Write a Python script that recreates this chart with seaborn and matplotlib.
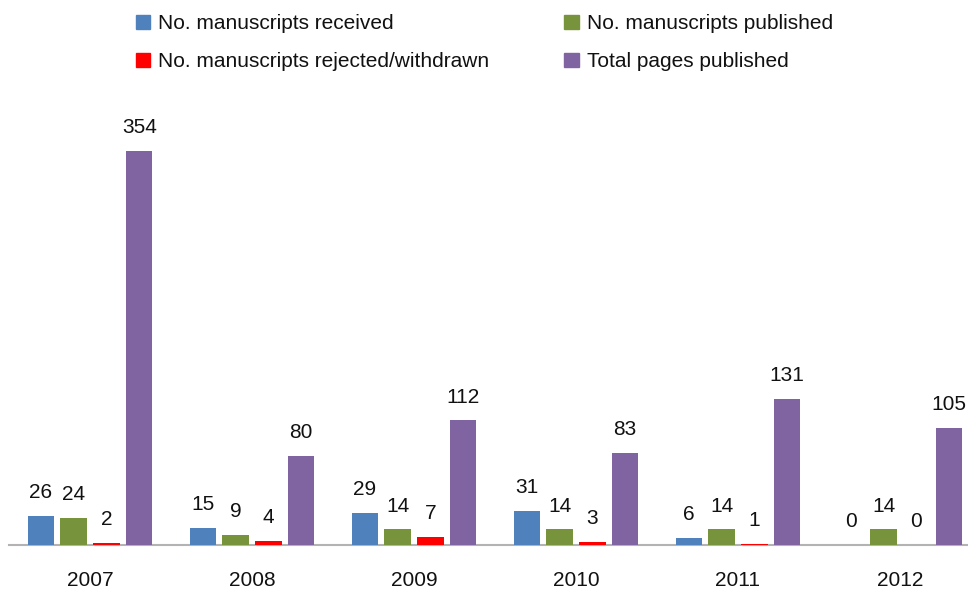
import matplotlib
matplotlib.use("Agg")
import matplotlib.pyplot as plt
from matplotlib.patches import Patch
import seaborn as sns
import pandas as pd

sns.set_style("white")
plt.rcParams['font.family'] = ['Liberation Sans', 'DejaVu Sans']

####### Data

years = ["2007", "2008", "2009", "2010", "2011", "2012"]
series = ["No. manuscripts received", "No. manuscripts published",
          "No. manuscripts rejected/withdrawn", "Total pages published"]
received = [26, 15, 29, 31, 6, 0]
published = [24, 9, 14, 14, 14, 14]
rejected = [2, 4, 7, 3, 1, 0]
pages = [354, 80, 112, 83, 131, 105]
colors = ["#4F81BD", "#77933C", "#FF0000", "#8064A2"]

rows = []
for name, vals in zip(series, [received, published, rejected, pages]):
    for y, v in zip(years, vals):
        rows.append({"year": y, "series": name, "value": v})
df = pd.DataFrame(rows)

fig = plt.figure(figsize=(9.68, 5.93), dpi=100)
ax = fig.add_axes([9 / 968, 48 / 593, 972 / 968, 445 / 593])

sns.barplot(data=df, x="year", y="value", hue="series", hue_order=series,
            palette=colors, saturation=1, width=0.81, gap=0.2,
            linewidth=0, ax=ax, legend=False)

for c in ax.containers:
    ax.bar_label(c, fmt="%d", padding=10, fontsize=15, color="#111111")

ax.set_ylim(0, 400)
ax.set_xlim(-0.5, 5.5)
ax.set_xlabel("")
ax.set_ylabel("")
ax.set_yticks([])
ax.tick_params(axis="x", length=0, pad=19, labelsize=15, labelcolor="#111111")
for s in ["top", "right", "left"]:
    ax.spines[s].set_visible(False)
ax.spines["bottom"].set_color("#b3b3b3")
ax.spines["bottom"].set_linewidth(1.5)
ax.spines["bottom"].set_zorder(0.5)

#legend in 2 columns, rows: received/published, rejected/pages
handles = [Patch(color=c, label=s) for c, s in zip(colors, series)]
order = [0, 2, 1, 3]
fig.legend([handles[i] for i in order], [series[i] for i in order],
           ncol=2, loc="upper left", bbox_to_anchor=(130 / 968, 1 - 8 / 593),
           frameon=False, fontsize=15, handlelength=0.68, handleheight=0.6,
           handletextpad=0.38, labelspacing=0.92, columnspacing=3.6,
           borderaxespad=0, borderpad=0.3, labelcolor="#111111")

plt.savefig("out.png", dpi=100)
